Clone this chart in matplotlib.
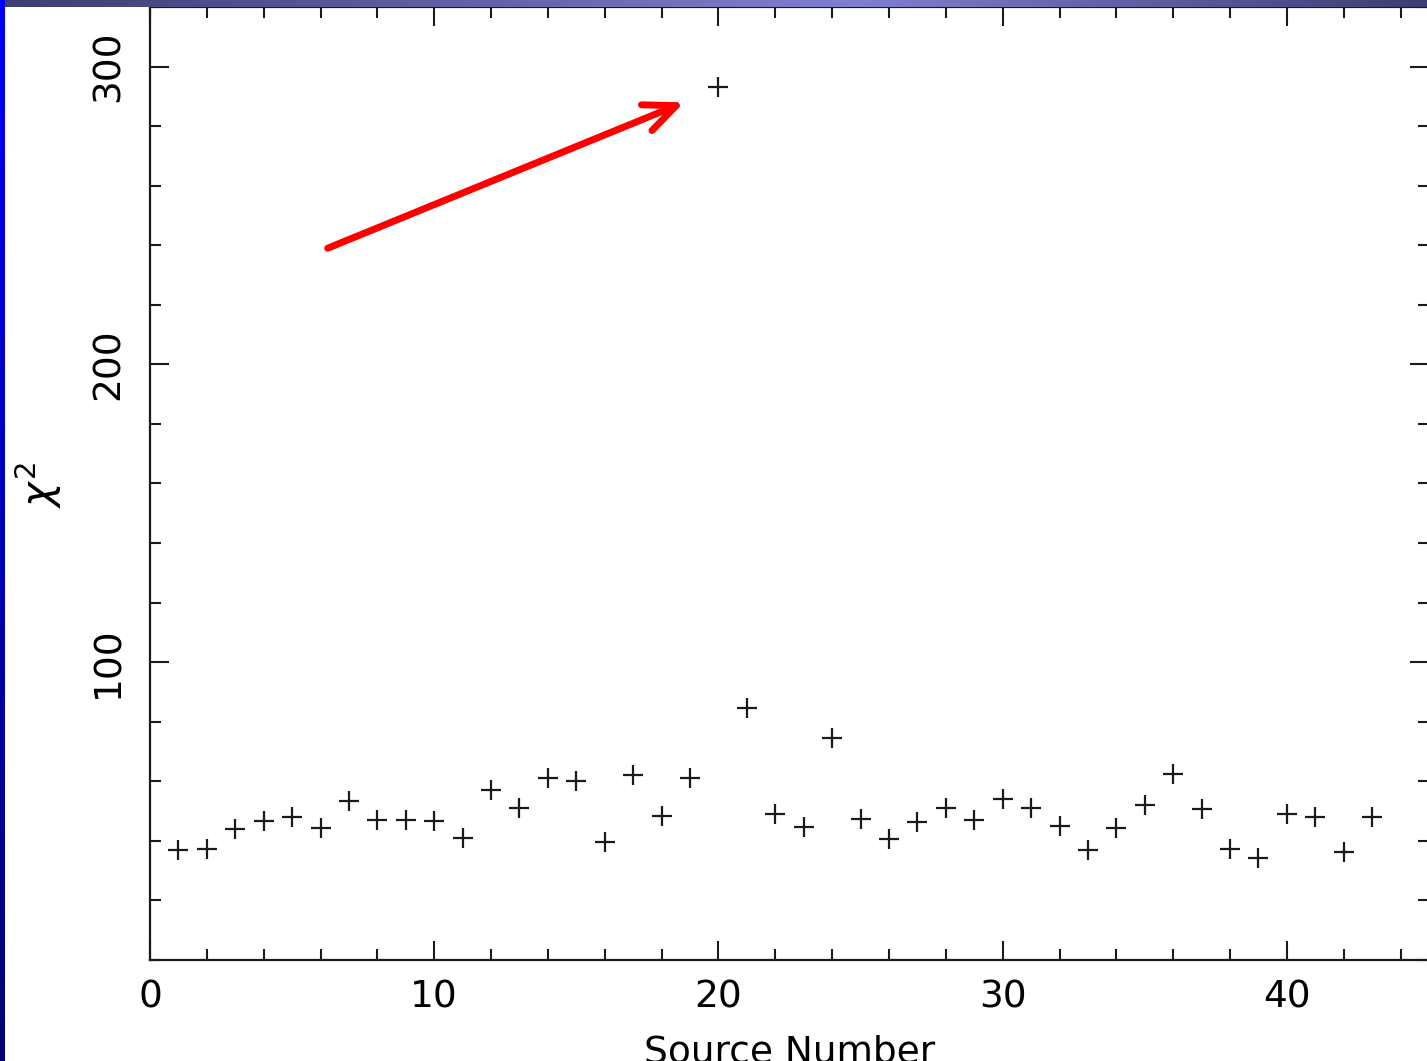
import numpy as np
import matplotlib
matplotlib.use("Agg")
import matplotlib.pyplot as plt
from matplotlib.ticker import MultipleLocator

source = list(range(1, 44))
chi2 = [37, 37.3, 44, 46.7, 48, 44.4, 53.4, 47, 47, 46.7,
        41, 57, 51, 61, 60, 39.7, 62, 48.4, 61, 293,
        84.7, 49, 44.7, 74.6, 47.4, 40.7, 46.4, 51, 47, 54,
        51, 45, 37, 44.4, 52, 62.5, 50.8, 37.3, 34.3, 49,
        48, 36.3, 48]

xticks = [0, 10, 20, 30, 40]
yticks = [100, 200, 300]
arrow_start = (6.25, 239)
arrow_end = (18.8, 288)

W, H = 1427, 1061
fig = plt.figure(figsize=(W / 100, H / 100), dpi=100)
fig.patch.set_facecolor("white")

ax = fig.add_axes([150 / W, (H - 960) / H, (1429 - 150) / W, (960 - 7) / H])
ax.plot(source, chi2, linestyle="none", marker="+", markersize=14,
        markeredgewidth=1.6, color="#1a1a1a")
ax.set_xlim(0, 45)
ax.set_ylim(0, 320)
ax.xaxis.set_major_locator(MultipleLocator(10))
ax.xaxis.set_minor_locator(MultipleLocator(2))
ax.yaxis.set_major_locator(MultipleLocator(100))
ax.yaxis.set_minor_locator(MultipleLocator(20))
ax.set_xticks(xticks)
ax.set_yticks(yticks)
ax.tick_params(which="both", direction="in", top=True, right=True,
               color="#1a1a1a", width=1.5)
ax.tick_params(which="major", length=13.5)
ax.tick_params(which="minor", length=8)
ax.tick_params(axis="x", which="major", labelsize=27, pad=14)
ax.tick_params(axis="y", which="major", labelsize=27, pad=17)
for lbl in ax.get_yticklabels():
    lbl.set_rotation(90)
    lbl.set_va("center")
for sp in ax.spines.values():
    sp.set_linewidth(1.6)
    sp.set_color("#1a1a1a")

ax.set_xlabel("Source Number", fontsize=27, labelpad=14)
ax.set_ylabel(r"$\chi^2$", fontsize=30, rotation=90, va="center", ha="center")
ax.yaxis.set_label_coords((38 - 150) / 1279, (960 - 485) / 953)

ax.annotate("", xy=arrow_end, xytext=arrow_start,
            arrowprops=dict(arrowstyle="->,head_length=2.3,head_width=1.0",
                            color="#ff0000", lw=5.0, shrinkA=0, shrinkB=0,
                            capstyle="round", joinstyle="round",
                            mutation_scale=10))

# slide frame: top gradient strip and left blue strip
top = fig.add_axes([0, (H - 7) / H, 1, 7 / H])
xs = np.linspace(0, 1, 400)
prof = np.interp(xs, [0, 0.6, 1], [0, 1, 0])
c0 = np.array([0.24, 0.24, 0.45])
c1 = np.array([0.50, 0.50, 0.82])
grad = c0[None, :] + prof[:, None] * (c1 - c0)[None, :]
top.imshow(grad[None, :, :], aspect="auto", extent=[0, 1, 0, 1])
top.set_axis_off()

left = fig.add_axes([0, 0, 4.5 / W, 1])
ys = np.linspace(0, 1, 300)
lc = np.stack([np.zeros_like(ys), np.zeros_like(ys), 0.45 + 0.55 * (1 - ys)], axis=1)
left.imshow(lc[:, None, :], aspect="auto", extent=[0, 1, 0, 1])
left.set_axis_off()

fig.savefig("out.png", dpi=100)
